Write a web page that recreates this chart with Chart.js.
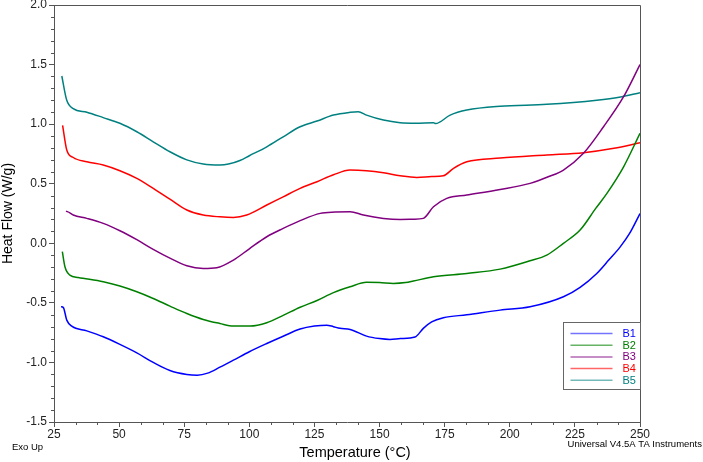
<!DOCTYPE html>
<html lang="en">
<head>
<meta charset="UTF-8">
<title>DSC Heat Flow</title>
<script src="https://cdn.jsdelivr.net/npm/chart.js"></script>
<style>
  body { margin: 0; background: #fff; }
</style>
</head>
<body>
<canvas id="myChart" width="703" height="462"></canvas>
<script>
// values
const b1Temp = [27.7, 28.6, 29.9, 31.8, 37.6, 43.9, 50.3, 56.8, 63.1, 69.5, 76, 80, 84, 88.7, 93.9, 100, 106.7, 113, 119.5, 125, 129.7, 132.3, 134.8, 138.7, 145, 150, 154, 158, 163.6, 166.8, 170, 174.5, 183.5, 196.3, 207.8, 220.6, 227, 233.4, 238, 242.4, 246, 250];
const b1Flow = [-0.533, -0.54, -0.645, -0.695, -0.735, -0.785, -0.849, -0.92, -1.0, -1.068, -1.101, -1.107, -1.09, -1.04, -0.981, -0.91, -0.841, -0.78, -0.72, -0.695, -0.687, -0.70, -0.714, -0.723, -0.779, -0.80, -0.807, -0.80, -0.787, -0.714, -0.66, -0.625, -0.60, -0.561, -0.533, -0.449, -0.37, -0.253, -0.141, -0.03, 0.083, 0.25];

const b2Temp = [28.2, 29.2, 31.1, 34.3, 43.9, 50.3, 56.8, 63.1, 69.5, 76, 82.3, 88.7, 93.9, 100.3, 106.7, 113, 119.5, 126, 132.3, 138.7, 145, 150, 155.3, 160, 163, 170.7, 183.5, 196.3, 207.8, 214.2, 220.6, 227, 233, 237.3, 243.7, 250];
const b2Flow = [-0.071, -0.197, -0.267, -0.287, -0.323, -0.359, -0.407, -0.463, -0.527, -0.589, -0.639, -0.673, -0.695, -0.695, -0.667, -0.605, -0.537, -0.48, -0.414, -0.365, -0.328, -0.33, -0.337, -0.33, -0.317, -0.281, -0.253, -0.217, -0.147, -0.099, 0.0, 0.111, 0.293, 0.419, 0.642, 0.923];

const b3Temp = [29.6, 31.1, 32.4, 37.6, 43.9, 50.3, 56.8, 63.1, 69.5, 76, 82.3, 87.5, 93.9, 100, 106.7, 113, 119.5, 127.2, 133, 138.7, 143.8, 151.5, 157.9, 163, 166.8, 170.7, 175.8, 183.5, 196.3, 207.8, 215, 220.6, 228.3, 236, 243.7, 250];
const b3Flow = [0.27, 0.256, 0.237, 0.209, 0.167, 0.105, 0.03, -0.051, -0.125, -0.189, -0.211, -0.205, -0.141, -0.046, 0.055, 0.125, 0.19, 0.251, 0.262, 0.265, 0.237, 0.209, 0.20, 0.202, 0.209, 0.307, 0.377, 0.405, 0.452, 0.503, 0.56, 0.615, 0.755, 0.978, 1.23, 1.50];

const b4Temp = [28.3, 29.9, 32.4, 37.6, 43.9, 50.3, 56.8, 63.1, 69.5, 76, 82.3, 88.7, 93.9, 99, 106.7, 113, 119.5, 126, 132.3, 138.7, 145, 151.5, 157.9, 164.3, 170, 174.5, 178.4, 183.5, 196.3, 214.2, 228.3, 240, 250];
const b4Flow = [0.99, 0.783, 0.72, 0.684, 0.657, 0.609, 0.545, 0.461, 0.37, 0.279, 0.237, 0.222, 0.217, 0.237, 0.321, 0.39, 0.461, 0.517, 0.575, 0.615, 0.609, 0.592, 0.567, 0.553, 0.56, 0.567, 0.629, 0.684, 0.715, 0.741, 0.76, 0.797, 0.844];

const b5Temp = [28, 29.9, 32.4, 37.6, 43.9, 50.3, 56.8, 63.1, 69.5, 76, 82.3, 88.7, 92, 96.4, 100, 106.7, 113, 119.5, 126, 132.3, 138.7, 141.8, 145, 151.5, 157.9, 164, 170.7, 171.5, 177.1, 183.5, 196.3, 214.2, 233.4, 242, 250];
const b5Flow = [1.404, 1.20, 1.13, 1.10, 1.055, 1.007, 0.936, 0.852, 0.768, 0.70, 0.665, 0.657, 0.665, 0.695, 0.735, 0.81, 0.894, 0.978, 1.026, 1.076, 1.099, 1.104, 1.076, 1.034, 1.012, 1.008, 1.012, 1.005, 1.076, 1.118, 1.15, 1.166, 1.20, 1.225, 1.264];

const seriesNames = ['B1', 'B2', 'B3', 'B4', 'B5'];
const seriesColors = ['#0000ff', '#008000', '#800080', '#ff0000', '#008080'];
const legendColors = ['rgba(0,0,255,0.55)', 'rgba(0,128,0,0.6)', 'rgba(128,0,128,0.6)', 'rgba(255,0,0,0.6)', 'rgba(0,128,128,0.55)'];

const temps = [b1Temp, b2Temp, b3Temp, b4Temp, b5Temp];
const flows = [b1Flow, b2Flow, b3Flow, b4Flow, b5Flow];

const FONT = 'Liberation Sans, Arial, sans-serif';

const extras = {
  id: 'extras',
  afterDraw(chart) {
    const { ctx, chartArea: a, scales: { x, y } } = chart;
    ctx.save();
    ctx.strokeStyle = '#555';
    ctx.lineWidth = 1;
    // top + right frame
    ctx.beginPath();
    ctx.moveTo(a.left, a.top + 0.5);
    ctx.lineTo(Math.round(a.right) + 0.5, a.top + 0.5);
    ctx.lineTo(Math.round(a.right) + 0.5, a.bottom);
    ctx.stroke();

    // minor ticks
    ctx.beginPath();
    for (let i = 1; i < 27; i++) {
      if (i % 3 === 0) continue;
      const px = Math.round(x.getPixelForValue(25 + i * 25 / 3)) + 0.5;
      ctx.moveTo(px, a.bottom);
      ctx.lineTo(px, a.bottom + 3);
    }
    for (let i = 1; i < 35; i++) {
      if (i % 5 === 0) continue;
      const py = Math.round(y.getPixelForValue(-1.5 + i * 0.1)) + 0.5;
      ctx.moveTo(a.left - 3, py);
      ctx.lineTo(a.left, py);
    }
    ctx.stroke();

    // legend box
    const bx = Math.round(a.right) - 77 + 0.5, by = Math.round(a.bottom) - 100 + 0.5;
    ctx.fillStyle = '#fff';
    ctx.fillRect(bx, by, 77, 67);
    ctx.strokeStyle = '#666';
    ctx.strokeRect(bx, by, 77, 67);
    ctx.font = '11px ' + FONT;
    ctx.textBaseline = 'middle';
    seriesNames.forEach((n, i) => {
      const ly = by + 11 + i * 11.7;
      ctx.strokeStyle = legendColors[i];
      ctx.lineWidth = 1.5;
      ctx.beginPath();
      ctx.moveTo(bx + 7, ly);
      ctx.lineTo(bx + 49, ly);
      ctx.stroke();
      ctx.fillStyle = seriesColors[i];
      ctx.fillText(n, bx + 59, ly + 0.5);
    });

    // texts under the axis
    ctx.fillStyle = '#000';
    ctx.textBaseline = 'alphabetic';
    ctx.font = '14.5px ' + FONT;
    ctx.textAlign = 'center';
    ctx.fillText('Temperature (°C)', 355, 457);
    ctx.font = '9.5px ' + FONT;
    ctx.textAlign = 'left';
    ctx.fillText('Exo Up', 12, 450);
    ctx.textAlign = 'right';
    ctx.fillText('Universal V4.5A TA Instruments', 702, 447);
    ctx.restore();
  }
};

new Chart(document.getElementById('myChart'), {
  type: 'line',
  data: {
    datasets: seriesNames.map((n, i) => ({
      label: n,
      data: temps[i].map((t, k) => ({ x: t, y: flows[i][k] })),
      borderColor: seriesColors[i],
      borderWidth: 1.5,
      pointRadius: 0,
      fill: false,
      cubicInterpolationMode: 'monotone'
    }))
  },
  options: {
    responsive: false,
    animation: false,
    layout: { padding: { left: 0, right: 63, top: 5, bottom: 0 } },
    plugins: { legend: { display: false }, tooltip: { enabled: false } },
    scales: {
      x: {
        type: 'linear',
        min: 25,
        max: 250,
        afterFit: (s) => { s.height = 40; },
        ticks: { stepSize: 25, color: '#222', padding: 0, maxRotation: 0, font: { family: FONT, size: 12 } },
        grid: { drawOnChartArea: false, drawTicks: true, tickLength: 5, tickColor: '#555' },
        border: { color: '#555', width: 1 }
      },
      y: {
        min: -1.5,
        max: 2.0,
        afterFit: (s) => { s.width = 54; s.paddingTop = 0; s.paddingBottom = 0; },
        ticks: { stepSize: 0.5, color: '#222', padding: 2, font: { family: FONT, size: 12 }, callback: (v) => v.toFixed(1) },
        grid: { drawOnChartArea: false, drawTicks: true, tickLength: 5, tickColor: '#555' },
        border: { color: '#555', width: 1 },
        title: { display: true, text: 'Heat Flow (W/g)', color: '#000', padding: 0, font: { family: FONT, size: 14 } }
      }
    }
  },
  plugins: [extras]
});
</script>
</body>
</html>
